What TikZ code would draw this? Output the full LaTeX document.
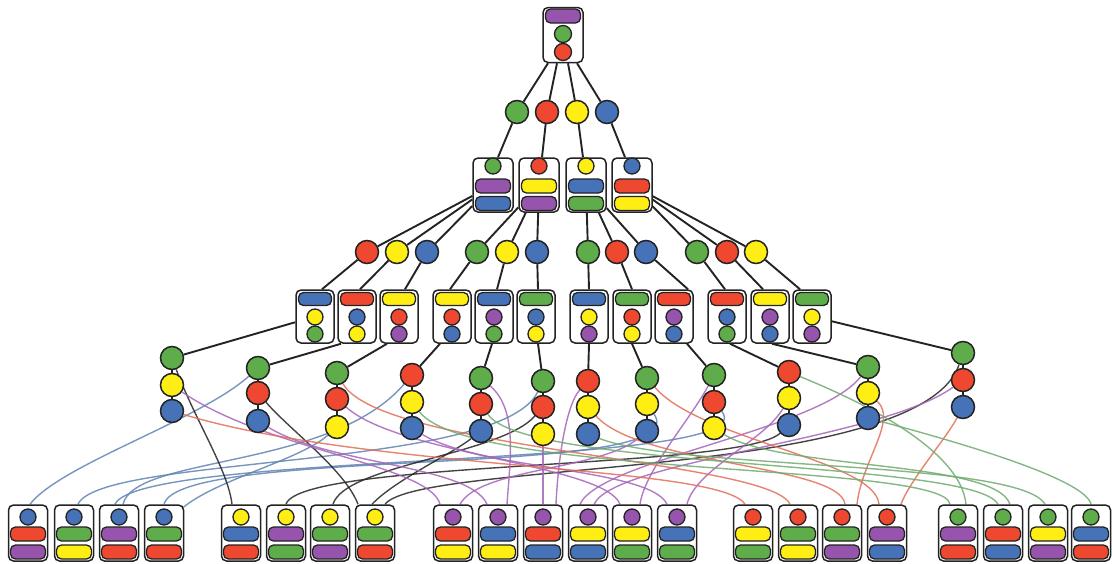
\documentclass[tikz,border=0pt]{standalone}
\usetikzlibrary{calc}
\definecolor{cg}{RGB}{95,172,75}
\definecolor{cr}{RGB}{238,72,48}
\definecolor{cy}{RGB}{255,238,20}
\definecolor{cb}{RGB}{70,114,184}
\definecolor{cp}{RGB}{150,84,172}
\definecolor{lb}{RGB}{95,130,178}
\definecolor{lp}{RGB}{165,100,185}
\definecolor{lr}{RGB}{226,110,88}
\definecolor{lg}{RGB}{110,170,110}
\definecolor{ink}{RGB}{35,35,35}
\pgfdeclarelayer{bg}
\pgfsetlayers{bg,main}
\begin{document}
\begin{tikzpicture}[x=1pt,y=-1pt,
 ball/.style={circle,draw=ink,line width=1.5pt,minimum size=23pt,inner sep=0pt},
 sball/.style={circle,draw=ink,line width=1.3pt,minimum size=16pt,inner sep=0pt},
 bar/.style={rectangle,rounded corners=5pt,draw=ink,line width=1.3pt,minimum width=35pt,minimum height=14pt,inner sep=0pt},
 qbar/.style={bar,minimum width=33pt,minimum height=13pt},
 box/.style={rectangle,rounded corners=5pt,draw=ink,line width=1.5pt,fill=white,minimum width=39pt,minimum height=55pt,inner sep=0pt},
 qbox/.style={box,minimum width=38pt,minimum height=53pt},
 edge/.style={draw=ink,line width=1.9pt},
 link/.style={line width=1.4pt,opacity=0.85}
]
\useasboundingbox (0,0) rectangle (1112,563);
% top
\node[box,minimum width=40pt] (top) at (563,35) {};
\node[bar,fill=cp] (topbar) at (563,16) {};
\node[sball,fill=cg,minimum size=17pt] (topg) at (563,34) {};
\node[sball,fill=cr,minimum size=17pt] (topr) at (563,52) {};
% level 1
\foreach \i/\x/\c in {1/517/cg,2/547/cr,3/577/cy,4/607/cb}
  \node[ball,fill=\c] (u\i) at (\x,112) {};
% level 2
\foreach \i/\x/\a/\b/\c in {1/493/cg/cp/cb,2/539/cr/cy/cp,3/586/cy/cb/cg,4/632/cb/cr/cy}{
  \node[box,minimum width=40pt,minimum height=54pt] (s\i) at (\x,185) {};
  \node[sball,fill=\a] (sa\i) at (\x,166) {};
  \node[bar,fill=\b] (sb\i) at (\x,186) {};
  \node[bar,fill=\c] (sc\i) at (\x,203.5) {};
}
% level 3
\foreach \i/\x/\c in {1/367/cr,2/397/cy,3/427/cb,4/477/cg,5/507/cy,6/537/cb,7/588/cg,8/617/cr,9/646/cb,10/697/cg,11/727/cr,12/756/cy}
  \node[ball,fill=\c] (t\i) at (\x,252) {};
% level 4
\foreach \i/\x/\b/\p/\q in {1/315/cb/cy/cg,2/357/cr/cb/cy,3/399/cy/cr/cp,4/452/cy/cr/cb,5/494/cb/cp/cg,6/536/cg/cb/cy,7/589/cb/cy/cp,8/632/cg/cr/cy,9/674/cr/cp/cb,10/727/cr/cb/cg,11/770/cy/cp/cb,12/812/cg/cy/cp}{
  \node[qbox] (q\i) at (\x,316.5) {};
  \node[qbar,fill=\b] (qb\i) at (\x,299) {};
  \node[sball,fill=\p] (qa\i) at (\x,317) {};
  \node[sball,fill=\q] (qc\i) at (\x,334) {};
}
% chains
\foreach \i/\x/\ya/\yb/\yc/\ca/\cb/\cc in {1/172/358/385/411/cg/cy/cb,2/258/368/393/421/cg/cr/cb,3/337/373/399/427/cg/cr/cy,4/412/375/402/428/cr/cy/cb,5/481/378/404/431/cg/cr/cb,6/543/381/407/434/cg/cr/cy,7/588/381/407/434/cr/cy/cb,8/647/378/404/431/cg/cy/cb,9/714/375/402/428/cg/cr/cy,10/789/372/398/425/cr/cy/cb,11/868/367/393/418/cg/cy/cb,12/963/353/380/407/cg/cr/cb}{
  \node[ball,fill=\ca] (ka\i) at (\x,\ya) {};
  \node[ball,fill=\cb] (kb\i) at (\x,\yb) {};
  \node[ball,fill=\cc] (kc\i) at (\x,\yc) {};
}
% leaves
\foreach \i/\x/\c/\p/\q in {1/28/cb/cr/cp,2/74/cb/cg/cy,3/119/cb/cp/cr,4/164/cb/cg/cr,5/241/cy/cb/cr,6/286/cy/cp/cg,7/330/cy/cg/cp,8/375/cy/cg/cr,9/453/cp/cr/cy,10/498/cp/cb/cy,11/543/cp/cr/cb,12/588/cp/cy/cb,13/632/cp/cy/cg,14/677/cp/cb/cg,15/753/cr/cy/cg,16/798/cr/cg/cy,17/842/cr/cg/cp,18/887/cr/cp/cb,19/958/cg/cp/cr,20/1003/cg/cr/cb,21/1048/cg/cy/cp,22/1091/cg/cb/cr}{
  \node[box,minimum height=56pt] (l\i) at (\x,533) {};
  \node[sball,fill=\c] (lc\i) at (\x,517) {};
  \node[bar,fill=\p] (lp\i) at (\x,534) {};
  \node[bar,fill=\q] (lq\i) at (\x,552) {};
}
\begin{pgfonlayer}{bg}
% tree edges
\draw[edge] ([xshift=-15pt]top.south) -- (u1);
\draw[edge] ([xshift=-6pt]top.south) -- (u2);
\draw[edge] ([xshift=5pt]top.south) -- (u3);
\draw[edge] ([xshift=14pt]top.south) -- (u4);
\draw[edge] (u1) -- ([xshift=5pt]s1.north);
\draw[edge] (u2) -- ([xshift=3pt]s2.north);
\draw[edge] (u3) -- ([xshift=-3pt]s3.north);
\draw[edge] (u4) -- ([xshift=-7pt]s4.north);
\foreach \s/\t in {1/1,1/2,1/3,2/4,2/5,2/6,3/7,3/8,3/9,4/10,4/11,4/12}
  \draw[edge] (s\s) -- (t\t);
\foreach \i/\s in {1/7,2/3,3/6,4/-2,5/3,6/2,7/0,8/0,9/14,10/-2,11/-7,12/-12}
  \draw[edge] (t\i) -- ([xshift=\s pt]q\i.north);
\draw[edge] (q1) -- (ka1);
\foreach \i/\s in {2/-16,3/-12,4/-12,5/-2,6/2,7/0,8/0,9/13,10/3,11/2}
  \draw[edge] ([xshift=\s pt]q\i.south) -- (ka\i);
\draw[edge] (q12) -- (ka12);
\foreach \i in {1,...,12}
  \draw[edge] (ka\i) -- (kb\i) -- (kc\i);
% blue links
\draw[link,lb] (ka2) .. controls (200,420) and (60,465) .. ([xshift=2pt]l1.north);
\draw[link,lb] (ka6) .. controls (500,470) and (100,455) .. ([xshift=4pt]l2.north);
\draw[link,lb] (ka4) .. controls (330,470) and (135,455) .. ([xshift=4pt]l3.north);
\draw[link,lb] (kb9) .. controls (770,470) and (140,450) .. ([xshift=-4pt]l3.north);
\draw[link,lb] (kb8) .. controls (700,480) and (180,445) .. ([xshift=0pt]l4.north);
\draw[link,lb] (kc3) .. controls (300,460) and (215,480) .. ([xshift=-2pt,yshift=-4pt]l4.north east);
% black links
\draw[link,ink] (ka1) .. controls (195,420) and (228,470) .. ([xshift=-9pt]l5.north);
\draw[link,ink] (kc10) .. controls (740,470) and (300,460) .. ([xshift=0pt]l6.north);
\draw[link,ink] (kb6) .. controls (500,455) and (345,465) .. ([xshift=3pt]l7.north);
\draw[link,ink] (kb2) .. controls (290,430) and (345,470) .. ([xshift=-17pt]l8.north);
\draw[link,ink] (kc5) .. controls (450,455) and (395,480) .. ([xshift=-3pt]l8.north);
\draw[link,ink] (ka12) .. controls (920,480) and (420,460) .. ([xshift=10pt]l8.north);
% purple links
\draw[link,lp] (kb1) .. controls (266,450) and (430,465) .. ([xshift=-13pt]l9.north);
\draw[link,lp] (kc8) .. controls (600,470) and (480,468) .. ([xshift=7pt]l9.north);
\draw[link,lp] (kc2) .. controls (330,465) and (470,465) .. ([xshift=-11pt]l10.north);
\draw[link,lp] (ka5) .. controls (518,410) and (510,460) .. ([xshift=9pt]l10.north);
\draw[link,lp] (kc6) .. controls (543,460) and (543,480) .. ([xshift=0pt]l11.north);
\draw[link,lp] (ka7) .. controls (566,405) and (558,460) .. ([xshift=13pt]l11.north);
\draw[link,lp] (ka11) .. controls (820,430) and (600,460) .. ([xshift=-8pt]l12.north);
\draw[link,lp] (kb12) .. controls (880,440) and (615,460) .. ([xshift=6pt]l12.north);
\draw[link,lp] (kb3) .. controls (400,455) and (605,465) .. ([xshift=-12pt]l13.north);
\draw[link,lp] (ka9) .. controls (690,420) and (645,470) .. ([xshift=8pt]l13.north);
\draw[link,lp] (kc4) .. controls (480,470) and (650,468) .. ([xshift=-10pt]l14.north);
\draw[link,lp] (kb10) .. controls (765,440) and (695,470) .. ([xshift=10pt]l14.north);
% red links
\draw[link,lr] (kc1) .. controls (372,471) and (720,465) .. ([xshift=-8pt]l15.north);
\draw[link,lr] (ka3) .. controls (380,450) and (770,460) .. ([xshift=-8pt]l16.north);
\draw[link,lr] (kb7) .. controls (640,465) and (840,465) .. ([xshift=3pt]l17.north);
\draw[link,lr] (kb11) .. controls (898,420) and (862,460) .. ([xshift=15pt]l17.north);
\draw[link,lr] (ka8) .. controls (700,440) and (875,460) .. ([xshift=-8pt]l18.north);
\draw[link,lr] (kc12) .. controls (945,440) and (910,480) .. ([xshift=14pt]l18.north);
% green links
\draw[link,lg] (kb4) .. controls (470,478) and (945,462) .. ([xshift=-8pt]l19.north);
\draw[link,lg] (ka10) .. controls (845,395) and (960,445) .. ([xshift=8pt]l19.north);
\draw[link,lg] (kb5) .. controls (525,470) and (975,460) .. ([xshift=-5pt]l20.north);
\draw[link,lg] (kc9) .. controls (780,470) and (995,460) .. ([xshift=7pt]l20.north);
\draw[link,lg] (kc7) .. controls (680,470) and (1020,460) .. ([xshift=-3pt]l21.north);
\draw[link,lg] (kc11) .. controls (950,440) and (1085,478) .. ([xshift=0pt]l22.north);
\end{pgfonlayer}
\end{tikzpicture}
\end{document}
